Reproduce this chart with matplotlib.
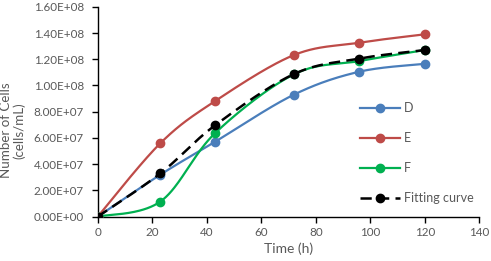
import numpy as np
import matplotlib
matplotlib.use("Agg")
import matplotlib.pyplot as plt
from matplotlib.lines import Line2D

time_h = [0, 23, 43, 72, 96, 120]
series_D = [0.0, 3.2e7, 5.7e7, 9.3e7, 1.105e8, 1.165e8]
series_E = [0.0, 5.6e7, 8.8e7, 1.232e8, 1.326e8, 1.39e8]
series_F = [0.0, 1.15e7, 6.35e7, 1.085e8, 1.186e8, 1.27e8]
series_fit = [0.0, 3.3e7, 6.95e7, 1.087e8, 1.205e8, 1.27e8]
x_ticks = [0, 20, 40, 60, 80, 100, 120, 140]
y_ticks = [0, 2e7, 4e7, 6e7, 8e7, 1e8, 1.2e8, 1.4e8, 1.6e8]

plt.rcParams['font.family'] = ['Lato', 'DejaVu Sans']
TXT = '#595959'


def smooth(xs, ys, n=40):
    """Excel-like smoothed line: cubic Bezier segments with Catmull-Rom control points."""
    P = np.column_stack([xs, ys]).astype(float)
    out = [P[0]]
    m = len(P)
    for i in range(m - 1):
        p0 = P[i - 1] if i > 0 else P[i]
        p1 = P[i]
        p2 = P[i + 1]
        p3 = P[i + 2] if i + 2 < m else P[i + 1]
        c1 = p1 + (p2 - p0) / 6.0
        c2 = p2 - (p3 - p1) / 6.0
        t = np.linspace(0, 1, n)[1:, None]
        seg = ((1 - t) ** 3) * p1 + 3 * ((1 - t) ** 2) * t * c1 + 3 * (1 - t) * t ** 2 * c2 + t ** 3 * p2
        out.extend(seg)
    out = np.array(out)
    return out[:, 0], out[:, 1]


fig = plt.figure(figsize=(4.91, 2.61), dpi=100)
ax = fig.add_axes([0.199, 0.170, 0.777, 0.804])

dash = (0, (4.5, 2.5))
specs = [
    ('D', series_D, '#4a7ebb', '-'),
    ('E', series_E, '#be4b48', '-'),
    ('F', series_F, '#00b050', '-'),
    ('Fitting curve', series_fit, '#000000', '--'),
]
handles = []
for name, vals, col, ls in specs:
    sx, sy = smooth(time_h, vals)
    if ls == '--':
        ax.plot(sx, sy, color=col, lw=1.8, ls=dash, zorder=4)
    else:
        ax.plot(sx, sy, color=col, lw=1.6, zorder=3)
    ax.plot(time_h, vals, 'o', color=col, ms=6, zorder=5 if ls == '--' else 4)
    handles.append(Line2D([], [], color=col, lw=1.6 if ls == '-' else 1.8,
                          ls='-' if ls == '-' else dash, marker='o', ms=6))

ax.set_xlim(0, 140)
ax.set_ylim(0, 1.6e8)
ax.set_xticks(x_ticks)
ax.set_yticks(y_ticks)
ax.set_yticklabels([f"{v:.2E}" for v in y_ticks])
for s in ['top', 'right']:
    ax.spines[s].set_visible(False)
for s in ['left', 'bottom']:
    ax.spines[s].set_color('black')
    ax.spines[s].set_linewidth(1.0)
ax.tick_params(axis='both', colors='black', labelcolor=TXT, labelsize=8.4, length=4, width=1, direction='out')
ax.tick_params(axis='y', pad=6)
ax.set_xlabel('Time (h)', color=TXT, fontsize=10, labelpad=3)
ax.set_ylabel('Number of Cells\n(cells/mL)', color=TXT, fontsize=9.6, ha='center', va='center',
              linespacing=1.05)
ax.yaxis.set_label_coords(13 / 491, 0.5, transform=fig.transFigure)
ax.yaxis.label.set_y(0.5)

leg = ax.legend(handles, [s[0] for s in specs], loc='upper left', bbox_to_anchor=(0.675, 0.57),
                frameon=False, fontsize=9, handlelength=3.2, labelspacing=1.45,
                handletextpad=0.3, borderaxespad=0)
for t in leg.get_texts():
    t.set_color(TXT)

fig.savefig('out.png', dpi=100)
